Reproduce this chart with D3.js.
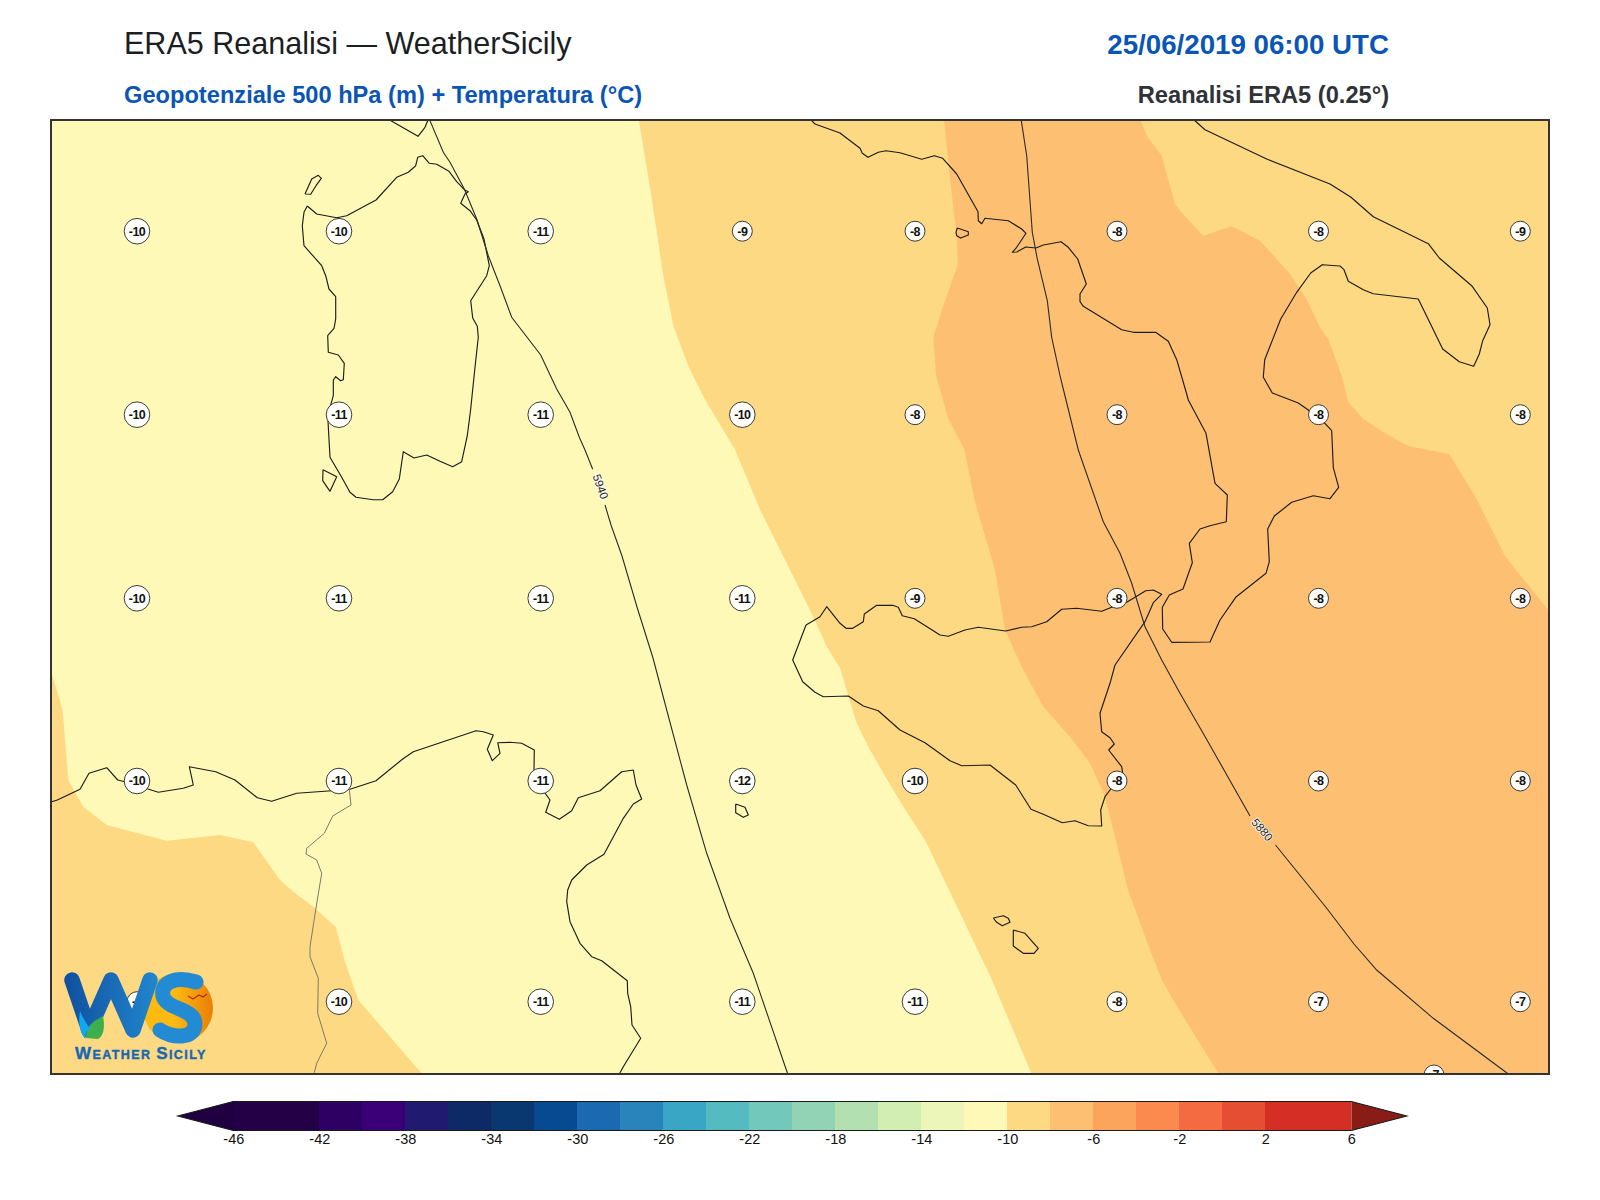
<!DOCTYPE html>
<html><head><meta charset="utf-8">
<script src="https://cdn.jsdelivr.net/npm/d3@7"></script>
<style>html,body{margin:0;padding:0;background:#fff}svg{display:block;font-family:"Liberation Sans",Arial,sans-serif}</style>
</head><body><div id="c"></div>
<script>
// Map grid units (east, south).
const sardinia=[[257.3,86],[266.7,94],[286.7,97.7],[296.7,95.7],[326,80],[346.7,57.3],[358.3,52.3],[365.7,45.7],[367.7,37.3],[372.7,35.7],[379.3,43.3],[386.7,44.3],[399,51.3],[406.7,61.7],[414.3,69.7],[418.3,71.7],[415,74],[410.7,83.3],[420,90.7],[426.7,100],[434,119],[439.3,145.7],[436.7,155.7],[420.7,180.7],[422.7,198],[427.3,206.3],[428.3,217.3],[425,247.3],[420.7,289],[417.3,315.7],[411.7,341.7],[402.7,346.7],[390,341.3],[376.7,335],[364,338],[353.3,331.7],[349.3,359],[342.7,371.7],[332.7,379.7],[323.3,379.7],[306,377.3],[300,372.3],[291.7,357.3],[280,337.3],[277.7,295.7],[283.3,275.7],[283.3,260],[285.7,256.7],[290.7,260.7],[293.3,259.7],[294.3,243.3],[288.3,235],[278.3,232.3],[277.7,215.7],[284,208.3],[285.7,199],[285.7,176.7],[279,169],[275.7,155.7],[271.7,145.7],[254,125.7],[252.3,105.7],[254,92.3],[257.3,86]];
const asinara=[[255,74],[260.7,74.3],[266,65.7],[271.3,58.3],[268.3,55.3],[261.7,59],[255,74]];
const sanPietro=[[273,349.7],[286.7,356.7],[280,371.3],[272.7,360.7],[273,349.7]];
const corsica=[[335,-2],[341,0.7],[368,16.3],[375,7.3],[377.7,0.7],[378,-2]];
const italy=[[759,-2],[761.7,0.7],[765,4],[790,13],[810,28.3],[812.3,33.3],[818,37.3],[828.3,32.3],[836,30.7],[850,32.7],[871.7,39.3],[884.3,35.7],[892.7,38.3],[906.7,54],[928,91.7],[928.3,100.7],[931.7,103.7],[935,98.3],[958.3,100.7],[971.7,109],[976,113.3],[966.7,127.3],[962.3,132.3],[966.7,132],[975.7,127],[986,128],[993.3,125],[1011,121.7],[1018.3,127.3],[1027.7,139],[1036.3,164],[1030,174],[1030,181.7],[1033.3,186.3],[1071.7,209.7],[1083.3,212.3],[1105.7,212.3],[1118.3,221.3],[1126.7,239.7],[1136.7,274],[1138.3,280],[1156,313.3],[1165,363.3],[1177.3,375],[1176.3,401.7],[1160,405.7],[1150,409],[1139.3,423.3],[1142.3,442.7],[1133,469],[1119.3,475],[1112.3,487.3],[1112.7,509],[1121.7,522.3],[1160,522],[1170,500],[1185.7,477.3],[1216,453.3],[1219.3,441.7],[1217.7,409],[1224.3,396],[1241.7,382.3],[1263.3,375.7],[1280,378.7],[1288.7,367.3],[1283.3,347.7],[1281.7,310.7],[1273.3,301.7],[1258.3,290],[1248.3,283],[1222.3,273],[1213.3,257.3],[1214.7,239.7],[1230.7,199],[1246.7,172.3],[1260.7,153],[1272.3,144.7],[1290,146],[1294,149.7],[1298.3,161.3],[1313.3,169.7],[1323.3,173.7],[1368.3,179],[1392.7,229],[1409.3,241.7],[1423.7,246.3],[1429.3,234],[1432.7,220.7],[1440,204.7],[1437.3,188],[1421.7,165.7],[1389.3,138],[1378.3,123.7],[1323.3,96.7],[1301,77.3],[1280,64],[1216.7,39],[1155,9.7],[1145,0.7],[1142,-2]];
const ischia=[[907.3,108],[918.3,111.7],[918.3,115],[910.7,118],[906.7,115.7],[906,112.3],[907.3,108]];
const sicily=[[756,505],[763.3,500.7],[770,496.7],[776.7,486.7],[790,503.3],[796,508.3],[802.7,508.3],[813.3,501.7],[814.3,494],[826.7,485.3],[842.7,485.3],[848.3,487.3],[852.3,495.7],[864.3,498.7],[890,515],[898.3,516.3],[915,510],[928.3,507.3],[955.7,511],[971.7,507.3],[981.7,506.7],[996.7,501.7],[1011.7,489.3],[1026.7,488.3],[1051.7,491.3],[1061.7,487.3],[1076.7,482.3],[1095.7,470.7],[1103.3,470],[1111.7,474.3],[1103.3,482.7],[1095,501.7],[1065,545],[1060,563.3],[1050,593.3],[1051.7,611.7],[1060,617.7],[1064.3,624],[1058.7,630],[1071.7,646.7],[1072.7,653.3],[1060,670],[1055,676.7],[1050.7,690],[1051.7,706],[1038.3,705.7],[1025,700.7],[1012.3,702.7],[993.3,694.3],[981,689.3],[965.7,665],[940,645],[911.7,645.7],[900,640.7],[875,622.7],[850,610],[836.7,598.3],[828.3,590.7],[813.3,586],[798.3,576],[773.3,576.7],[765,572.3],[752.7,561.7],[742.7,540],[756,505]];
const pantelleria=[[685.7,684],[695,687.3],[698.3,695],[693.3,697.3],[685.7,692.7],[685.7,684]];
const gozo=[[943.3,798],[953.3,795.7],[958.3,798.3],[960,802.3],[952.3,805.7],[946.7,802.3],[943.3,798]];
const malta=[[963.3,810],[975,813.3],[988.3,828.3],[984,833.3],[973.3,833.3],[963.3,826],[963.3,810]];
const africa=[[-2,682],[1.7,681.7],[7.3,680],[30,669.3],[39,653.3],[56.7,647.7],[67.7,660],[75,661.7],[108.3,672.3],[133.3,668.3],[143.3,665],[139.3,646.7],[165.7,651.7],[185,660],[207.3,677.7],[221.7,681.3],[246.7,673.3],[278.3,671],[300,669.3],[326,660.7],[352.7,639],[363.3,631.7],[426,610.7],[433.3,611.7],[443.3,615],[437.3,629.3],[442.3,640.7],[450,633.3],[447.7,622.7],[460,622.3],[471.7,623.3],[484.3,630],[484,650],[491.7,668.3],[500,680],[495.7,692.3],[509.3,699.3],[521.7,690.7],[528.3,677.7],[550,670.7],[571.7,651.7],[583.3,650],[586,665],[591.7,679],[583.3,684],[573.3,698.3],[554,734.3],[536.7,745],[521.7,760],[517.7,770],[516.7,781.7],[520,801.7],[530,823.3],[541.7,836.7],[551.7,840.7],[577.3,860.7],[577.7,873.3],[580.7,886.7],[582,905],[590.7,918.3],[573.3,946.7],[570,952.7],[568,957]];
const border=[[299.3,669.3],[301,685],[282.7,696],[274.3,713.3],[256.7,728.3],[256,734],[266.7,740],[271.7,753.3],[265.7,790],[260,826.7],[260,836.7],[268.3,858.3],[267.7,893.3],[276.7,923.3],[266.7,943.3],[264.3,952.7],[264,957]];
const coastlines=[sardinia,asinara,sanPietro,corsica,italy,ischia,sicily,pantelleria,gozo,malta,africa];

const height5940a=[[380,-2],[380,0.7],[393.3,32.3],[400,42.3],[414.3,69],[426.7,99],[438.3,135.7],[450,165.7],[461.7,197.3],[490.7,235],[506.7,269],[520,292.3],[529.3,317.3],[535,330],[542.7,349.3]];
const height5940b=[[555,385],[561,405],[572,436],[587,487],[603,538],[616.7,590],[636.7,665],[656.7,733.3],[680,798.3],[703.3,853.3],[737.3,952.7],[738,957]];
const height5880a=[[971,-2],[971.3,0.7],[976.7,35.7],[982.3,112.3],[987.3,139],[997.3,180.7],[1001.7,217.3],[1010,255.7],[1016,280],[1028.3,330],[1053.3,401.7],[1070,433.3],[1081.7,463.3],[1095,506.7],[1111.7,540],[1130,573.3],[1154,614.7],[1200,696]];
const height5880b=[[1225.5,725],[1276.5,788],[1304,824],[1326.7,850],[1383.3,898.3],[1457.3,953.3],[1462,957]];
const contourLabels=[{text:"5940",at:[550.7,366.7],turn:70},{text:"5880",at:[1212.3,709.6],turn:49}];

const edgeYellowEast=[[588.8,0],[601,73.9],[613.3,155.5],[623.5,206.5],[638.8,247.3],[654.1,278],[684.7,329],[710.2,390.2],[740,450],[763.3,496.7],[776.7,526.7],[790,548.3],[798.3,576],[806.7,603.3],[818.3,626.7],[833.3,653.3],[853.3,686.7],[875,720],[910,793],[942,860],[982,955]];
const edgeYellowWest=[[0,548],[12.7,590],[18.3,660],[33.3,686.7],[56.7,705],[116.7,720.7],[170,715],[203.3,722.3],[230,760],[243.3,771.7],[263.3,786.7],[286,807.3],[295,841.7],[308.3,880],[350,928.3],[373,955]];
const edgeMidWest=[[894,0],[900,59],[906.7,115.7],[907.7,144.7],[893.3,185.7],[883.3,217.3],[886,255.7],[898.3,299],[914.3,329],[924.5,380],[945,450],[955,510],[973.3,550],[993.3,586.7],[1020,616.7],[1040,643.3],[1055,676.7],[1065,716.7],[1078,770],[1100,830],[1112,860],[1125,883.3],[1168.3,953.3],[1170,955]];
const edgeMidEast=[[1090.7,0],[1096.7,15.7],[1111.7,35.7],[1125,84],[1130,90.7],[1153.3,115.7],[1181.7,106.3],[1210,120.7],[1240,154],[1256.7,179],[1270,207.3],[1278.3,219],[1291.7,255.7],[1298.3,282.3],[1313.3,299],[1330,310],[1358,326],[1399,334],[1424.5,375],[1455,436],[1500,492]];

const stationEast=[87,289,490.7,692.3,865,1067,1268.5,1470.3];
const stationSouth=[111.2,294.7,478.3,661,881.7];
const tempRow1=[-10,-10,-11,-9,-8,-8,-8,-9];
const tempRow2=[-10,-11,-11,-10,-8,-8,-8,-8];
const tempRow3=[-10,-11,-11,-11,-9,-8,-8,-8];
const tempRow4=[-10,-11,-11,-12,-10,-8,-8,-8];
const tempRow5=[-9,-10,-11,-11,-11,-8,-7,-7];
const tempRows=[tempRow1,tempRow2,tempRow3,tempRow4,tempRow5];
const tempExtra={east:1384,south:955,value:-7};

const levels=[-46,-44,-42,-40,-38,-36,-34,-32,-30,-28,-26,-24,-22,-20,-18,-16,-14,-12,-10,-8,-6,-4,-2,0,2,4,6];
const levelColors=["#240046","#240046","#2e0063","#3b0078","#201a70","#0e2a66","#093770","#084a92","#1a69b1","#2a84bc","#38a6c4","#54bcc0","#73c8bc","#93d3b5","#b2e0b0","#d3eeb3","#ecf6b8","#fff9b8","#fed983","#fdc073","#fda45c","#fb8a4e","#f46a41","#e54e33","#d52f25","#d52f25"];
const underColor="#200040", overColor="#8a1c17";
const colorTicks=[-46,-42,-38,-34,-30,-26,-22,-18,-14,-10,-6,-2,2,6];

const svg=d3.select("#c").append("svg").attr("width",1600).attr("height",1200).attr("viewBox","0 0 1600 1200");
svg.append("rect").attr("width",1600).attr("height",1200).attr("fill","#fff");

const x=d3.scaleLinear().domain([0,1500]).range([50,1550]);
const y=d3.scaleLinear().domain([0,955]).range([120,1075]);
const line=d3.line().x(d=>x(d[0])).y(d=>y(d[1]));
const fillFor=v=>levelColors[d3.bisectRight(levels,v)-1];

svg.append("defs").append("clipPath").attr("id","map").append("rect")
  .attr("x",x(0)+1).attr("y",y(0)).attr("width",x(1500)-x(0)-2).attr("height",y(955)-y(0)-1);
const map=svg.append("g").attr("clip-path","url(#map)");

map.append("rect").attr("x",x(0)).attr("y",y(0)).attr("width",x(1500)-x(0)).attr("height",y(955)-y(0)).attr("fill",fillFor(-11));
const bands=[
 {v:-9,poly:[...edgeYellowEast,[1500,955],[1500,0]]},
 {v:-9,poly:[...edgeYellowWest,[0,955]]},
 {v:-7,poly:[...edgeMidWest,[1500,955],...edgeMidEast.slice().reverse()]}
];
map.selectAll("path.band").data(bands).join("path").attr("class","band")
  .attr("d",d=>line(d.poly)+"Z").attr("fill",d=>fillFor(d.v));

map.selectAll("path.coast").data(coastlines).join("path").attr("class","coast")
  .attr("d",line).attr("fill","none").attr("stroke","#1c1c1c").attr("stroke-width",1.15).attr("stroke-linejoin","round");
map.append("path").attr("d",line(border)).attr("fill","none").attr("stroke","#7a7a6e").attr("stroke-width",1);

map.selectAll("path.hgt").data([height5940a,height5940b,height5880a,height5880b]).join("path").attr("class","hgt")
  .attr("d",line).attr("fill","none").attr("stroke","#2b2b2b").attr("stroke-width",1.1);
map.selectAll("text.hlab").data(contourLabels).join("text").attr("class","hlab")
  .attr("transform",d=>`translate(${x(d.at[0])},${y(d.at[1])}) rotate(${d.turn})`)
  .attr("text-anchor","middle").attr("dy","0.36em").attr("font-size",11.5).attr("fill","#222")
  .attr("stroke","#fff").attr("stroke-width",1.4).attr("paint-order","stroke").text(d=>d.text);

const stations=[];
tempRows.forEach((row,j)=>row.forEach((v,i)=>stations.push({east:stationEast[i],south:stationSouth[j],value:v})));
stations.push(tempExtra);
const st=map.selectAll("g.st").data(stations).join("g").attr("class","st")
  .attr("transform",d=>`translate(${x(d.east)},${y(d.south)})`);
st.append("circle").attr("r",d=>String(d.value).length>2?12.8:10)
  .attr("fill","#fff").attr("fill-opacity",0.96).attr("stroke","#3c3c3c").attr("stroke-width",1);
st.append("text").attr("text-anchor","middle").attr("dy","0.35em").attr("font-size",12.5).attr("font-weight","700")
  .attr("letter-spacing","-0.6").attr("fill","#111").text(d=>d.value);

svg.append("rect").attr("x",x(0)+1).attr("y",y(0)).attr("width",x(1500)-x(0)-2).attr("height",y(955)-y(0)-1)
  .attr("fill","none").attr("stroke","#353330").attr("stroke-width",2);

// Titles
const title=(t,xp,yp,size,weight,col,anchor)=>svg.append("text").attr("x",xp).attr("y",yp).attr("font-size",size)
  .attr("font-weight",weight).attr("fill",col).attr("text-anchor",anchor).text(t);
title("ERA5 Reanalisi — WeatherSicily",124,54,30.55,400,"#1b1f24","start");
title("Geopotenziale 500 hPa (m) + Temperatura (°C)",124,103,23.65,700,"#0a55b5","start");
title("25/06/2019 06:00 UTC",1389,54,27.7,700,"#0a55b5","end");
title("Reanalisi ERA5 (0.25°)",1389,103,23.65,700,"#2f3237","end");

// Colour bar
const cb=d3.scaleLinear().domain([-46,6]).range([233.3,1351.3]);
const cbTop=1101.5, cbBot=1130.5, cbMid=(cbTop+cbBot)/2;
const cbar=svg.append("g");
cbar.selectAll("rect").data(levelColors).join("rect")
  .attr("x",(d,i)=>cb(levels[i])).attr("width",(d,i)=>cb(levels[i+1])-cb(levels[i]))
  .attr("y",cbTop).attr("height",cbBot-cbTop).attr("fill",d=>d).attr("shape-rendering","crispEdges");
cbar.append("path").attr("d",`M${cb(-46)},${cbTop}L${cb(-46)-55.5},${cbMid}L${cb(-46)},${cbBot}Z`).attr("fill",underColor);
cbar.append("path").attr("d",`M${cb(6)},${cbTop}L${cb(6)+55.5},${cbMid}L${cb(6)},${cbBot}Z`).attr("fill",overColor);
cbar.append("path").attr("d",`M${cb(-46)},${cbTop}L${cb(-46)-55.5},${cbMid}L${cb(-46)},${cbBot}L${cb(6)},${cbBot}L${cb(6)+55.5},${cbMid}L${cb(6)},${cbTop}Z`)
  .attr("fill","none").attr("stroke","#1a1a1a").attr("stroke-width",1.1);
const axis=svg.append("g").attr("transform",`translate(0,${cbBot})`)
  .call(d3.axisBottom(cb).tickValues(colorTicks).tickSize(0).tickPadding(3).tickFormat(d=>String(d)));
axis.select(".domain").remove();
axis.selectAll("text").attr("font-size",14.5).attr("font-family","'Liberation Sans',Arial,sans-serif").attr("fill","#111");

// Logo
const defs=svg.select("defs");
const g1=defs.append("linearGradient").attr("id","wsBlue").attr("gradientUnits","userSpaceOnUse").attr("x1",64).attr("x2",160).attr("y1",0).attr("y2",0);
g1.append("stop").attr("offset","0%").attr("stop-color","#0f4f9e");
g1.append("stop").attr("offset","100%").attr("stop-color","#2288d0");
const g2=defs.append("linearGradient").attr("id","wsSun").attr("x1",0).attr("x2",1).attr("y1",0).attr("y2",0);
g2.append("stop").attr("offset","45%").attr("stop-color","#ffba12");
g2.append("stop").attr("offset","100%").attr("stop-color","#e87f06");
const logo=svg.append("g");
logo.append("circle").attr("cx",178).attr("cy",1008).attr("r",35).attr("fill","url(#wsSun)");
logo.append("path").attr("d","M72,980L89,1030L111,980L133,1030L150,980").attr("fill","none")
  .attr("stroke","url(#wsBlue)").attr("stroke-width",15.5).attr("stroke-linejoin","round").attr("stroke-linecap","round");
logo.append("path").attr("d","M196,982C176,976 160,982 163,996C166,1010 195,1008 195,1024C195,1040 172,1038 160,1030").attr("fill","none")
  .attr("stroke","#238bd3").attr("stroke-width",15).attr("stroke-linecap","round");
logo.append("path").attr("d","M86,1038C86,1026 92,1022 103,1016C105,1026 104,1036 98,1039Z").attr("fill","#3fae4d");
logo.append("path").attr("d","M80,1011C84,1020 88,1026 90,1028C85,1032 85,1037 86,1039C80,1035 78,1022 80,1011Z").attr("fill","#12a6f2");
logo.append("path").attr("d","M188,996L193,999L199,995L203,997L207,994").attr("fill","none").attr("stroke","#b4302a").attr("stroke-width",1.3);
const lt=logo.append("text").attr("x",75).attr("y",1059).attr("font-weight",700).attr("fill","#1668b4")
  .attr("letter-spacing",1.4).attr("stroke","#1668b4").attr("stroke-width",0.4);
[["W",17],["EATHER ",12.5],["S",17],["ICILY",12.5]].forEach(([t,s])=>lt.append("tspan").attr("font-size",s).text(t));
</script></body></html>
